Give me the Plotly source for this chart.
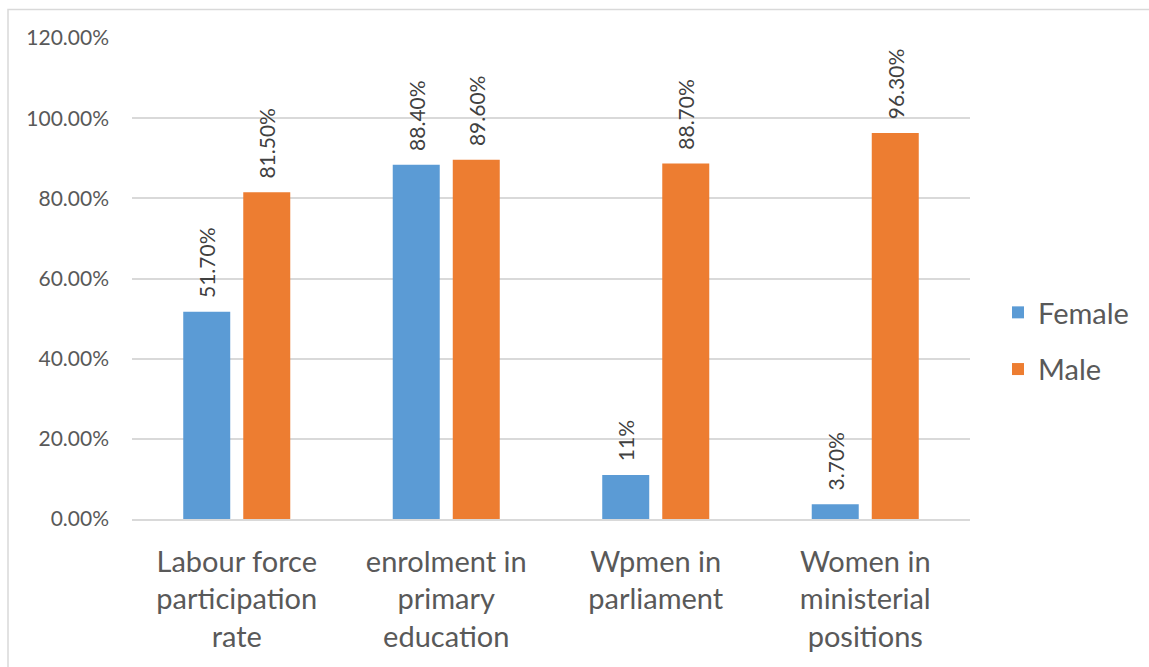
import plotly.graph_objects as go

categories = [
    "Labour force<br>participation<br>rate",
    "enrolment in<br>primary<br>education",
    "Wpmen in<br>parliament",
    "Women in<br>ministerial<br>positions",
]
female_values = [51.7, 88.4, 11.0, 3.7]
male_values = [81.5, 89.6, 88.7, 96.3]
female_labels = ["51.70%", "88.40%", "11%", "3.70%"]
male_labels = ["81.50%", "89.60%", "88.70%", "96.30%"]
tick_values = [0, 20, 40, 60, 80, 100, 120]
tick_labels = ["0.00%", "20.00%", "40.00%", "60.00%", "80.00%", "100.00%", "120.00%"]

FONT = "Lato, Open Sans, sans-serif"
TEXT_COLOR = "#595959"
PAD = "\u00a0\u00a0"  # small space between bar top and its rotated label

W, H = 1149, 667
ML, MR, MT, MB = 132, 179, 38, 148
pw, ph = W - ML - MR, H - MT - MB

fig = go.Figure()
for name, vals, labels, color in [
    ("Female", female_values, female_labels, "#5B9BD5"),
    ("Male", male_values, male_labels, "#ED7D31"),
]:
    fig.add_trace(go.Bar(
        name=name, legendgroup=name, x=categories, y=vals,
        text=[PAD + t for t in labels], textposition="outside", textangle=-90,
        constraintext="none",
        textfont=dict(family=FONT, size=21, color="#404040"),
        marker=dict(color=color, line=dict(width=0)),
        cliponaxis=False,
    ))

# outer chart border
fig.add_shape(
    type="rect", xref="paper", yref="paper",
    x0=(8 - ML) / pw, x1=(1160 - ML) / pw,
    y0=-(H + 10 - MT - ph) / ph, y1=1 + (MT - 9.5) / ph,
    line=dict(color="#D9D9D9", width=1.5), fillcolor="rgba(0,0,0,0)",
    layer="below",
)

fig.update_layout(
    width=W, height=H,
    margin=dict(l=ML, r=MR, t=MT, b=MB),
    paper_bgcolor="white", plot_bgcolor="white",
    barmode="group", bargap=0.427, bargroupgap=0.217,
    font=dict(family=FONT, color=TEXT_COLOR),
    showlegend=True,
    legend=dict(
        x=(998 - ML) / pw, xanchor="left", y=1 - (341 - MT) / ph, yanchor="middle",
        font=dict(family=FONT, size=29, color=TEXT_COLOR),
        itemwidth=30, tracegroupgap=16, traceorder="grouped",
        bgcolor="rgba(0,0,0,0)",
    ),
)
fig.update_xaxes(
    showgrid=False, showline=True, linecolor="#D9D9D9", linewidth=1.5,
    ticks="", tickfont=dict(family=FONT, size=29, color=TEXT_COLOR),
    ticklabelstandoff=16, fixedrange=True,
)
fig.update_yaxes(
    range=[0, 120], tickvals=tick_values, ticktext=tick_labels,
    showgrid=True, gridcolor="#D9D9D9", gridwidth=1.5,
    zeroline=False, showline=False, ticks="",
    tickfont=dict(family=FONT, size=21, color=TEXT_COLOR),
    ticklabelstandoff=22, fixedrange=True,
)

fig.write_html("out.html", config=dict(displayModeBar=False))
